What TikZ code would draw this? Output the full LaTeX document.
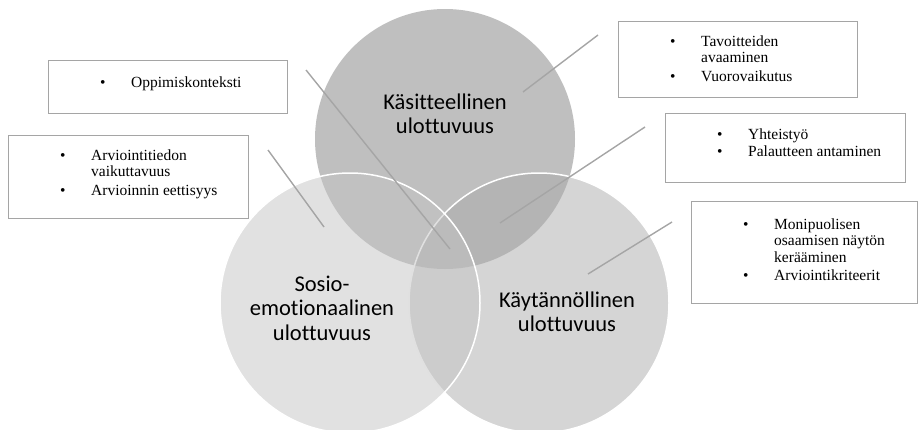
\documentclass[tikz,border=0pt]{standalone}
\usepackage{fontspec}
\setmainfont{Liberation Serif}
\newfontfamily\ympyrafont[Ligatures=NoCommon]{Carlito}
\usetikzlibrary{positioning}
\definecolor{viivaharmaa}{RGB}{165,165,165}
\definecolor{kasiteharmaa}{RGB}{127,127,127}
\definecolor{kaytantoharmaa}{RGB}{171,171,171}
\definecolor{sosioharmaa}{RGB}{195,195,195}
\newcommand{\kohta}{\rule{0pt}{12pt}\makebox[31pt][l]{\textbullet}}
\newcommand{\jatko}{\hspace*{31pt}}
\tikzstyle{laatikko} = [draw=viivaharmaa, line width=1.4pt, anchor=north west, inner sep=0pt]
\tikzstyle{luettelo} = [inner sep=0pt, align=left, font=\fontsize{15.5}{16.7}\selectfont]
\tikzstyle{ympyra}   = [circle, inner sep=0pt, minimum size=260pt, fill opacity=0.5]
\tikzstyle{nimi}     = [align=center, font=\ympyrafont\fontsize{22.5}{24.5}\selectfont]
\tikzstyle{viiva}    = [draw=viivaharmaa, line width=1.4pt]

\begin{document}
\begin{tikzpicture}[x=1pt, y=-1pt]
		\useasboundingbox (0,0) rectangle (919,429);

		% ympyrat
		\node[ympyra, fill=kasiteharmaa] (kasite) at (445,139) {};
		\node[ympyra, fill=kaytantoharmaa, draw=white, draw opacity=1, line width=1.5pt] (kaytanto) at (539,303) {};
		\node[ympyra, fill=sosioharmaa, draw=white, draw opacity=1, line width=1.5pt] (sosio) at (350,303) {};

		\node[nimi] (kasiteteksti) at (445,114) {K\"asitteellinen\\ulottuvuus};
		\node[nimi] (sosioteksti) at (322,308) {Sosio-\\emotionaalinen\\ulottuvuus};
		\node[nimi] (kaytantoteksti) at (567,312) {K\"ayt\"ann\"ollinen\\ulottuvuus};

		% laatikot
		\node[laatikko, minimum width=239pt, minimum height=53pt] (kontekstibox) at (48,60) {};
		\node[laatikko, minimum width=240pt, minimum height=83pt] (arviointibox) at (8,135) {};
		\node[laatikko, minimum width=239pt, minimum height=76pt] (tavoitebox) at (618,21) {};
		\node[laatikko, minimum width=240pt, minimum height=69pt] (yhteisbox) at (665,113) {};
		\node[laatikko, minimum width=226pt, minimum height=102pt] (monibox) at (691,201) {};

		\node[luettelo, below right=15pt and 52pt of kontekstibox.north west] (kontekstiteksti)
			{\kohta Oppimiskonteksti};
		\node[luettelo, below right=13pt and 52pt of arviointibox.north west] (arviointiteksti)
			{\kohta Arviointitiedon\\ \jatko vaikuttavuus\\[2pt] \kohta Arvioinnin eettisyys};
		\node[luettelo, below right=13pt and 52pt of tavoitebox.north west] (tavoiteteksti)
			{\kohta Tavoitteiden\\ \jatko avaaminen\\[2pt] \kohta Vuorovaikutus};
		\node[luettelo, below right=14pt and 52pt of yhteisbox.north west] (yhteisteksti)
			{\kohta Yhteisty\"o\\[1pt] \kohta Palautteen antaminen};
		\node[luettelo, below right=16pt and 52pt of monibox.north west] (moniteksti)
			{\kohta Monipuolisen\\ \jatko osaamisen n\"ayt\"on\\ \jatko ker\"a\"aminen\\[1pt] \kohta Arviointikriteerit};

		% viivat
		\coordinate (kontekstialku) at (306,70);
		\coordinate (kontekstiloppu) at (450,249);
		\coordinate (arviointialku) at (268,150);
		\coordinate (arviointiloppu) at (324,227);
		\coordinate (tavoitealku) at (598,35);
		\coordinate (tavoiteloppu) at (523,92);
		\coordinate (yhteisalku) at (645,127);
		\coordinate (yhteisloppu) at (500,223);
		\coordinate (monialku) at (672,222);
		\coordinate (moniloppu) at (588,274);

		\draw[viiva] (kontekstialku) -- (kontekstiloppu);
		\draw[viiva] (arviointialku) -- (arviointiloppu);
		\draw[viiva] (tavoitealku) -- (tavoiteloppu);
		\draw[viiva] (yhteisalku) -- (yhteisloppu);
		\draw[viiva] (monialku) -- (moniloppu);
	\end{tikzpicture}
\end{document}
